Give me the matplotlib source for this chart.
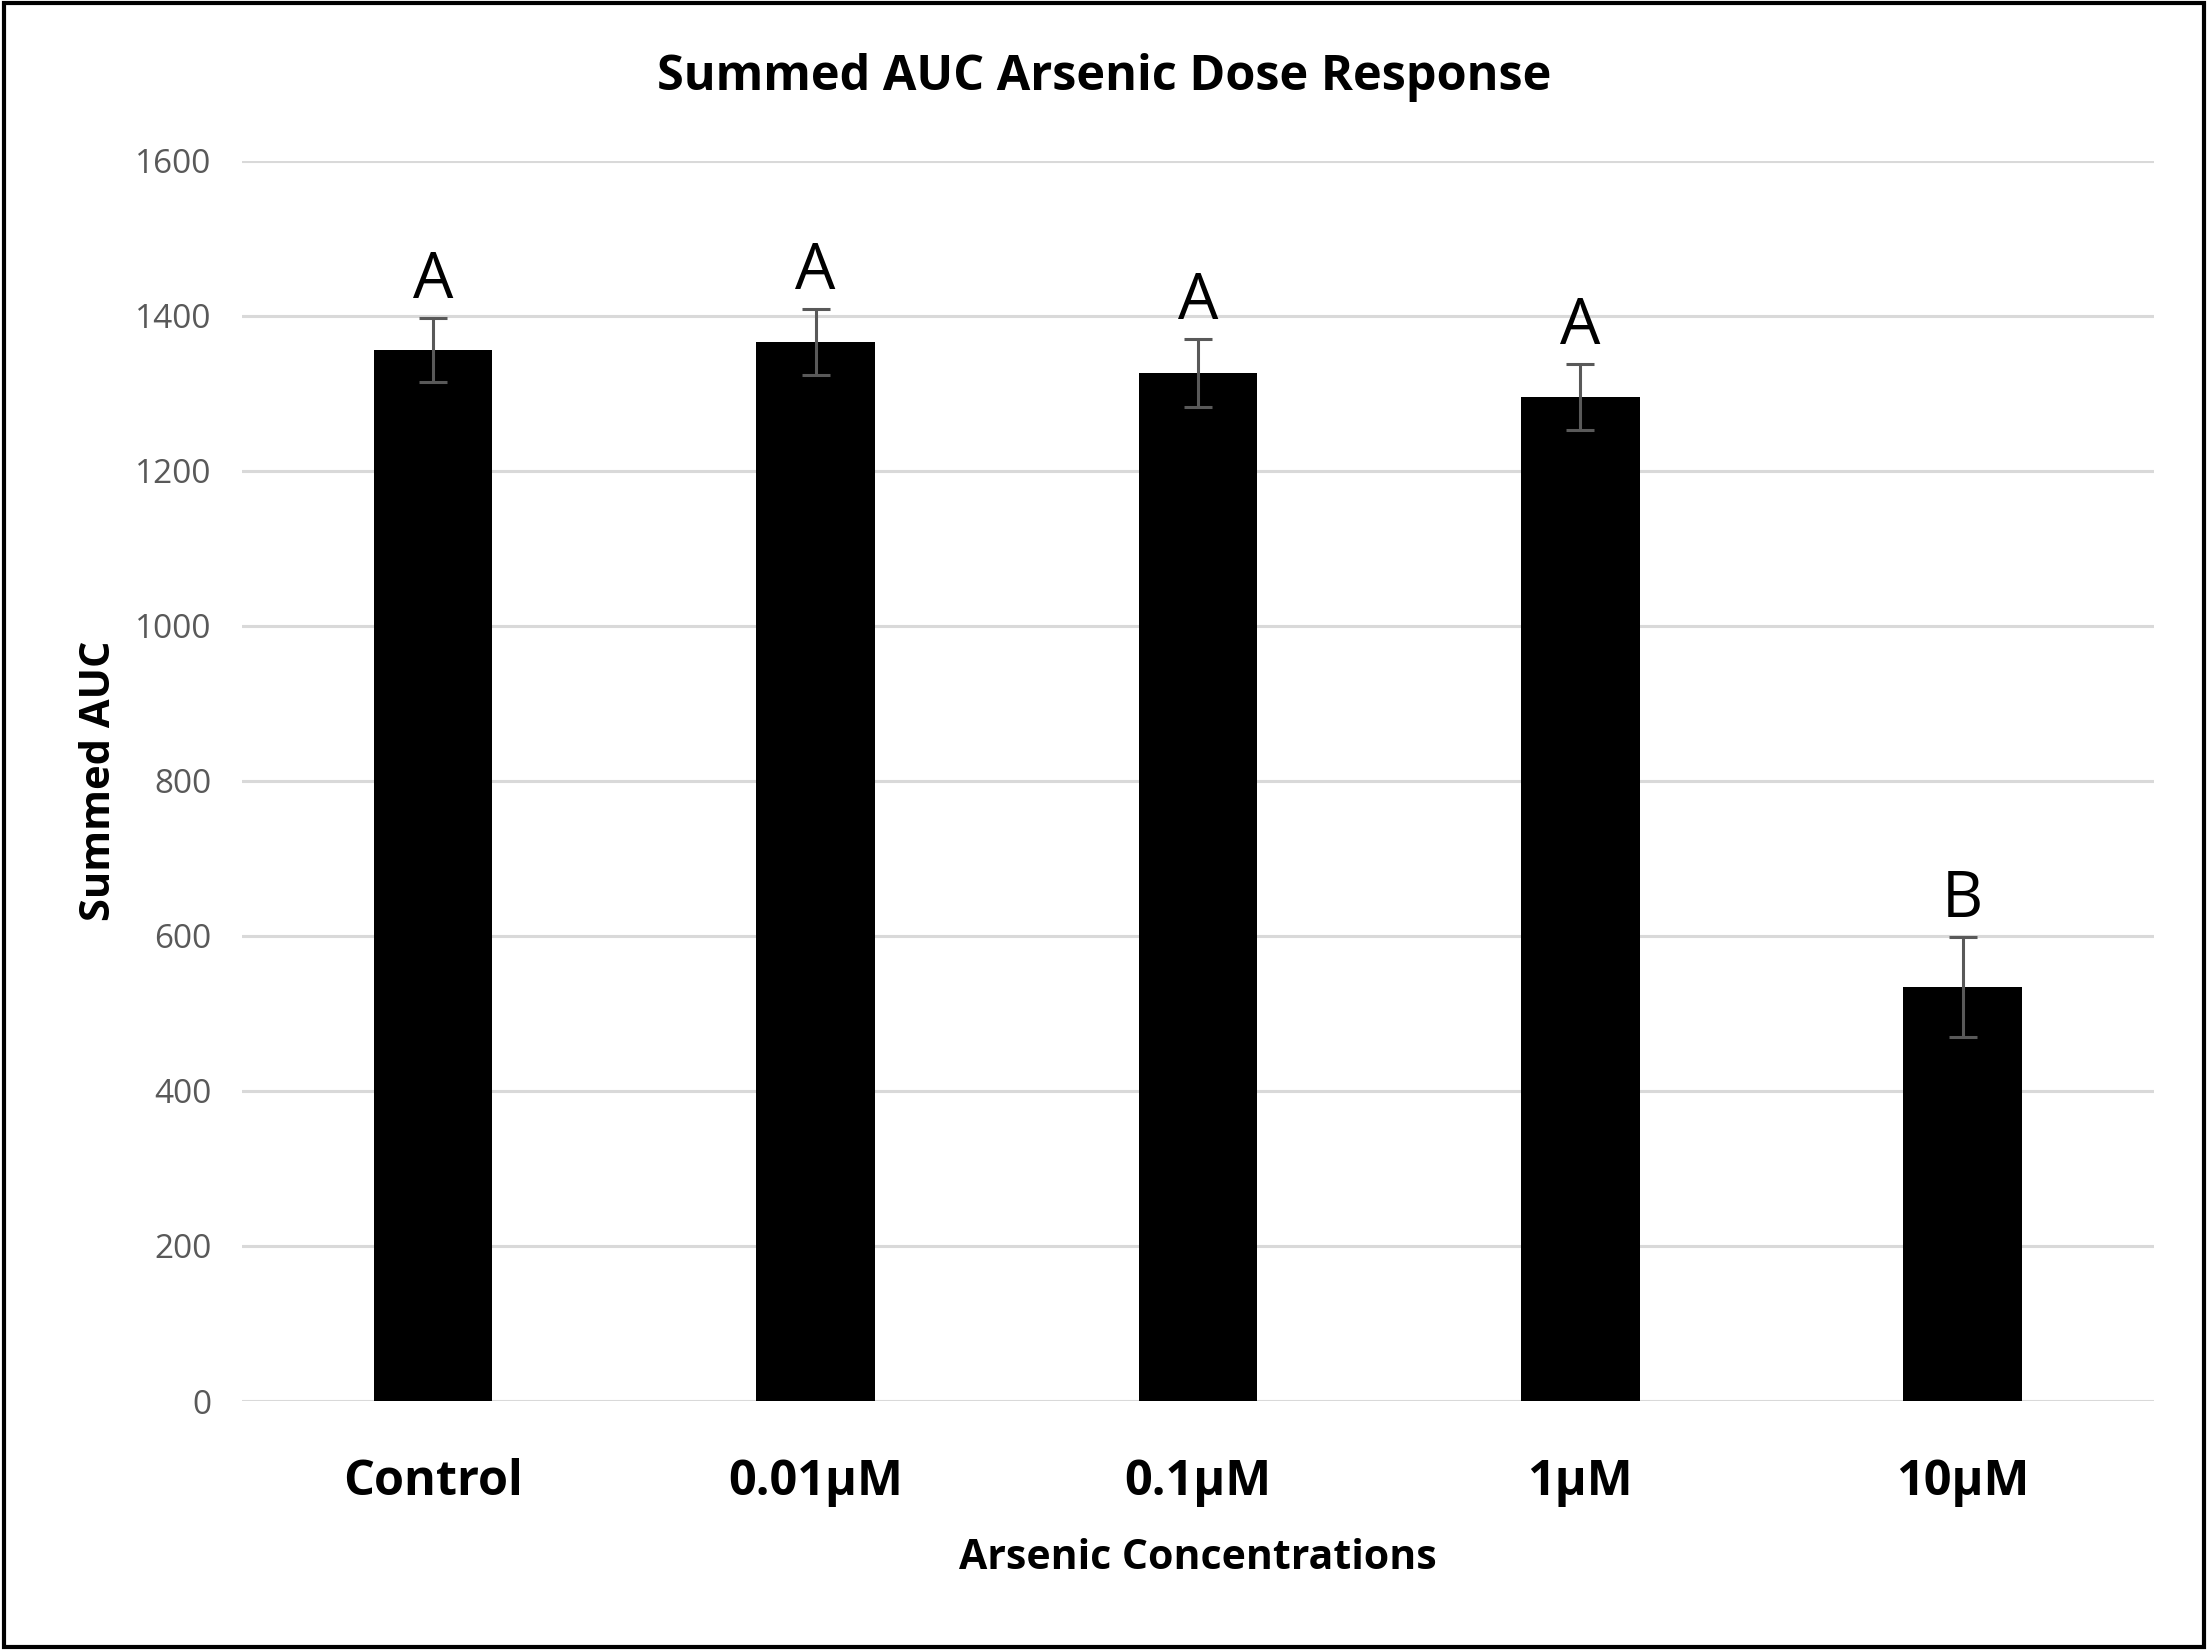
import numpy as np
import matplotlib
matplotlib.use('Agg')
import matplotlib.pyplot as plt
from matplotlib.patches import Rectangle

# Data
categories = ['Control', '0.01µM', '0.1µM', '1µM', '10µM']
auc_mean = [1356, 1366, 1326, 1295, 534]
auc_err = [41, 42, 44, 42, 64]
group_letters = ['A', 'A', 'A', 'A', 'B']
y_ticks = [0, 200, 400, 600, 800, 1000, 1200, 1400, 1600]

plt.rcParams['font.family'] = ['Open Sans', 'DejaVu Sans']

fig = plt.figure(figsize=(22.08, 16.5), dpi=100)
ax = fig.add_axes([0.1096, 0.1509, 0.8659, 0.7518])

x = np.arange(len(categories))
ax.bar(x, auc_mean, width=0.31, color='black', zorder=3)
ax.errorbar(x, auc_mean, yerr=auc_err, fmt='none', ecolor='#595959',
            elinewidth=2.2, capsize=10, capthick=2.2, zorder=4)

# Letter labels above the error bars
for xi, m, e, lab in zip(x, auc_mean, auc_err, group_letters):
    ax.text(xi, m + e + 26, lab, ha='center', va='baseline', fontsize=46, color='black')

ax.set_xlim(-0.5, len(categories) - 0.5)
ax.set_ylim(0, 1600)
ax.set_yticks(y_ticks)
ax.set_yticklabels([str(t) for t in y_ticks], fontsize=24, color='#595959')
ax.set_xticks(x)
ax.set_xticklabels(categories, fontsize=35, fontweight='bold')
ax.tick_params(axis='both', length=0)
ax.tick_params(axis='x', pad=41)
ax.tick_params(axis='y', pad=22)
ax.grid(axis='y', color='#d9d9d9', linewidth=2.2, zorder=0)
for s in ax.spines.values():
    s.set_visible(False)

ax.set_ylabel('Summed AUC', fontsize=30, fontweight='bold', labelpad=11)
ax.set_xlabel('Arsenic Concentrations', fontsize=29.5, fontweight='bold', labelpad=22)
fig.text(0.5, 0.953, 'Summed AUC Arsenic Dose Response', ha='center', va='center',
         fontsize=35, fontweight='bold')

# outer border
fig.patches.append(Rectangle((0.002, 0.002), 0.996, 0.996, transform=fig.transFigure,
                             fill=False, edgecolor='black', linewidth=3))

fig.savefig('out.png', dpi=100)
